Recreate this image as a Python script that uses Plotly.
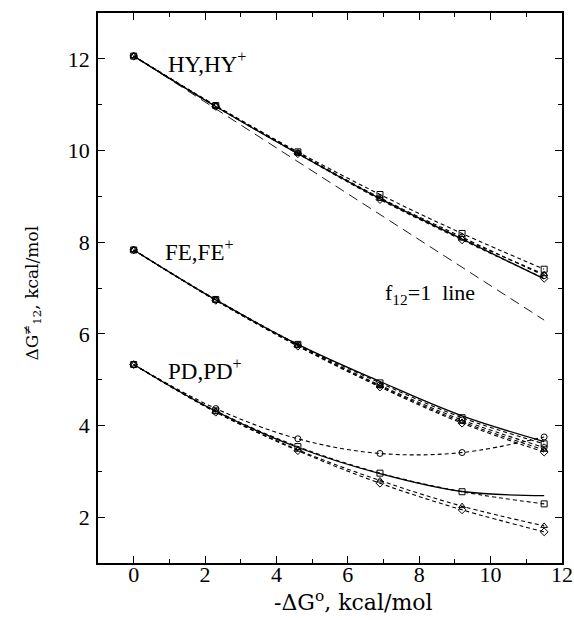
import plotly.graph_objects as go

# -dG° values (kcal/mol)
x_vals = [0, 2.3, 4.6, 6.9, 9.2, 11.5]

# HY,HY+ group
hy_solid = [12.06, 10.96, 9.93, 8.95, 8.07, 7.20]
hy_circle = [12.06, 10.97, 9.95, 8.97, 8.11, 7.27]
hy_square = [12.06, 10.98, 9.97, 9.04, 8.19, 7.41]
hy_triangle = [12.06, 10.97, 9.94, 8.95, 8.08, 7.30]
hy_diamond = [12.06, 10.96, 9.93, 8.93, 8.05, 7.21]

# FE,FE+ group
fe_solid = [7.83, 6.74, 5.77, 4.96, 4.21, 3.65]
fe_circle = [7.83, 6.74, 5.76, 4.88, 4.12, 3.52]
fe_square = [7.83, 6.75, 5.77, 4.93, 4.17, 3.60]
fe_triangle = [7.83, 6.73, 5.74, 4.86, 4.08, 3.47]
fe_diamond = [7.83, 6.73, 5.73, 4.84, 4.05, 3.42]

# PD,PD+ group
pd_solid = [5.33, 4.31, 3.52, 2.95, 2.56, 2.47]
pd_circle = [5.33, 4.37, 3.71, 3.39, 3.41, 3.75]
pd_square = [5.33, 4.32, 3.54, 2.96, 2.555, 2.29]
pd_triangle = [5.33, 4.30, 3.47, 2.80, 2.24, 1.81]
pd_diamond = [5.33, 4.29, 3.45, 2.74, 2.16, 1.68]

# f12 = 1 line
f1_x = [0, 11.5]
f1_y = [12.06, 6.30]

FONT = "Liberation Serif"
TITLE_FONT = "DejaVu Serif"

fig = go.Figure()

groups = [
    (hy_solid, hy_circle, hy_square, hy_triangle, hy_diamond),
    (fe_solid, fe_circle, fe_square, fe_triangle, fe_diamond),
    (pd_solid, pd_circle, pd_square, pd_triangle, pd_diamond),
]
symbols = ["circle-open", "square-open", "triangle-up-open", "diamond-open"]

for solid, *dashed in groups:
    for ys, sym in zip(dashed, symbols):
        fig.add_trace(go.Scatter(
            x=x_vals, y=ys, mode="lines+markers",
            line=dict(color="black", width=1.1, dash="4px,3px", shape="spline"),
            marker=dict(symbol=sym, size=6, color="black", line=dict(width=1, color="black")),
            showlegend=False, hoverinfo="skip"))
    fig.add_trace(go.Scatter(
        x=x_vals, y=solid, mode="lines",
        line=dict(color="black", width=1.3, shape="spline"),
        showlegend=False, hoverinfo="skip"))

fig.add_trace(go.Scatter(
    x=f1_x, y=f1_y, mode="lines",
    line=dict(color="black", width=0.9, dash="10px,6px"),
    showlegend=False, hoverinfo="skip"))

axis_common = dict(
    showline=True, linecolor="black", linewidth=1.5, mirror="ticks",
    ticks="inside", ticklen=7, tickcolor="black", tickwidth=1,
    showgrid=False, zeroline=False, automargin=False,
    tickfont=dict(family=FONT, size=22, color="black"),
    minor=dict(ticks="inside", ticklen=4, dtick=1, tickcolor="black", showgrid=False),
)

fig.update_xaxes(range=[-1, 12], tickmode="array", tickvals=[0, 2, 4, 6, 8, 10, 12],
                 ticklabelstandoff=-9, **axis_common)
fig.update_yaxes(range=[1, 13], tickmode="array", tickvals=[2, 4, 6, 8, 10, 12],
                 ticklabelstandoff=2, **axis_common)

annos = [
    dict(x=2.05, y=11.93, text="HY,HY<sup>+</sup>", size=23),
    dict(x=1.83, y=7.81, text="FE,FE<sup>+</sup>", size=23),
    dict(x=2.0, y=5.23, text="PD,PD<sup>+</sup>", size=23),
    dict(x=8.29, y=6.87, text="f<sub>12</sub>=1  line", size=22),
]
for a in annos:
    fig.add_annotation(x=a["x"], y=a["y"], xref="x", yref="y", text=a["text"],
                       xanchor="center", yanchor="middle",
                       showarrow=False, font=dict(family=FONT, size=a["size"], color="black"))

fig.add_annotation(x=0.55, y=-0.069, xref="paper", yref="paper",
                   xanchor="center", yanchor="middle",
                   text="-ΔG<sup>o</sup>, kcal/mol", showarrow=False,
                   font=dict(family=TITLE_FONT, size=22, color="black"))
fig.add_annotation(x=-0.142, y=0.49, xref="paper", yref="paper", textangle=-90,
                   xanchor="center", yanchor="middle",
                   text="ΔG<sup>≠</sup><sub>12</sub>, kcal/mol", showarrow=False,
                   font=dict(family=TITLE_FONT, size=17, color="black"))

fig.update_layout(
    width=574, height=620,
    margin=dict(l=98, r=12, t=13, b=57, autoexpand=False),
    plot_bgcolor="white", paper_bgcolor="white",
    showlegend=False,
)

# remove the browser's default 8px body margin so the figure fills the window
fig.write_html(
    "out.html",
    config={"displayModeBar": False},
    post_script="document.body.style.margin='0';document.body.style.overflow='hidden';",
)
